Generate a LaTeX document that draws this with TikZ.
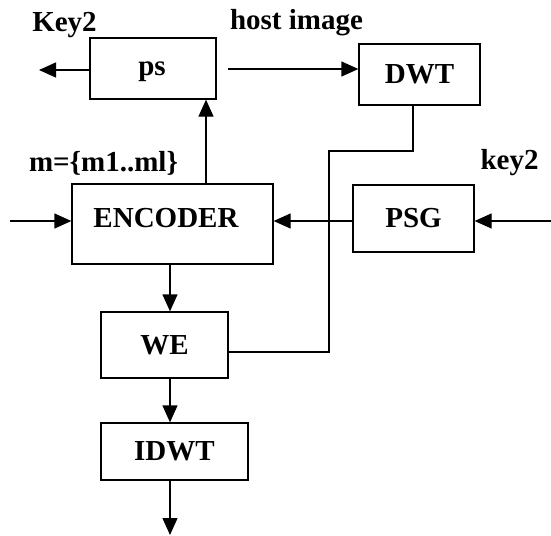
\documentclass[tikz,border=0pt]{standalone}
\usepackage{fontspec}
\setmainfont{Liberation Serif}
\usetikzlibrary{arrows.meta}

\tikzset{
    blockbox/.style={draw, line width=1.3pt, inner sep=0pt},
    flow/.style={line width=1.3pt, -{Triangle[length=17pt,width=15pt]}},
    wire/.style={line width=1.3pt}
}

\begin{document}
\begin{tikzpicture}[x=1pt, y=1pt, font=\fontsize{29}{31}\selectfont\bfseries]
        \useasboundingbox (0, 0) rectangle (551, -535);
        \node[blockbox, minimum width=126pt, minimum height=61pt] (ps) at (153, -68.5) {};
        \node (pstext) at (152, -72) {ps};
        \node[blockbox, minimum width=121pt, minimum height=61pt] (dwt) at (419.5, -74.5) {DWT};
        \node[blockbox, minimum width=201pt, minimum height=80pt] (enc) at (172.5, -224) {};
        \node (enctext) at (166, -218) {ENCODER};
        \node[blockbox, minimum width=121pt, minimum height=67pt] (psg) at (413.5, -218.5) {PSG};
        \node[blockbox, minimum width=127pt, minimum height=66pt] (we) at (164.5, -345) {WE};
        \node[blockbox, minimum width=147pt, minimum height=57pt] (idwt) at (174.5, -451.5) {IDWT};
        \node (lblkey) at (64.5, -25) {Key2};
        \node (lblhost) at (296.5, -23) {host image};
        \node (lblmsg) at (103.5, -163) {m=\{m1..ml\}};
        \node (lblkeyb) at (509.5, -163) {key2};
        \coordinate (keyout) at (39, -70);
        \coordinate (hostin) at (228, -69);
        \coordinate (encin) at (10, -221);
        \coordinate (psgin) at (551, -221);
        \coordinate (bend) at (329, -151);
        \coordinate (axis) at (170, 0);
        \coordinate (out) at (170, -535);
        \draw[flow] (keyout -| ps.west) -- (keyout);
        \draw[flow] (hostin) -- (hostin -| dwt.west);
        \draw[flow] ([xshift=33.5pt]enc.north) -- ([xshift=33.5pt]enc.north |- ps.south);
        \draw[wire] ([xshift=-6.5pt]dwt.south) |- (bend) |- ([yshift=-7pt]we.east);
        \draw[flow] (encin) -- (encin -| enc.west);
        \draw[flow] (psgin) -- (psgin -| psg.east);
        \draw[flow] (psgin -| psg.west) -- (psgin -| enc.east);
        \draw[flow] (enc.south -| axis) -- (we.north -| axis);
        \draw[flow] (we.south -| axis) -- (idwt.north -| axis);
        \draw[flow] (idwt.south -| axis) -- (out);
    \end{tikzpicture}
\end{document}
